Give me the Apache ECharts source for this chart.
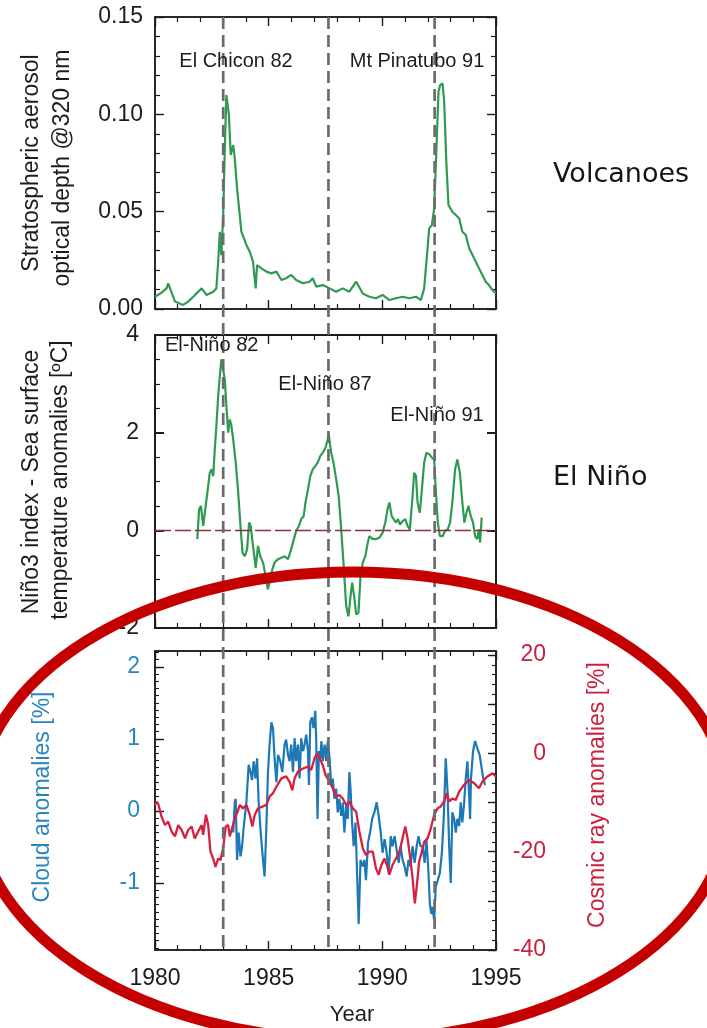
<!DOCTYPE html>
<html><head><meta charset="utf-8">
<script src="https://cdn.jsdelivr.net/npm/echarts@6/dist/echarts.min.js"></script>
<style>html,body{margin:0;padding:0;background:#fff}#c{width:707px;height:1028px}</style>
</head><body><div id="c"></div>
<script>
// ---------------- DATA ----------------
const yearTickLabels = [1980, 1985, 1990, 1995];
const aerosolTickLabels = [0, 0.05, 0.10, 0.15];
const ninoTickLabels = [-2, 0, 2, 4];
const cloudTickLabels = [-1, 0, 1, 2];
const cosmicTickLabels = [-40, -20, 0, 20];
const eventYears = [1983.0, 1987.63, 1992.3];
const volcanoLabels = ['El Chicon 82', 'Mt Pinatubo 91'];
const ninoLabels = ['El-Niño 82', 'El-Niño 87', 'El-Niño 91'];

// Stratospheric aerosol optical depth @320 nm
const aerosol = [[1980.00,0.0063],[1980.30,0.0085],[1980.51,0.0106],[1980.58,0.0132],[1980.88,0.0038],[1981.24,0.0021],[1981.46,0.0038],[1981.68,0.0063],[1982.05,0.0106],[1982.27,0.0072],[1982.56,0.0089],[1982.70,0.0106],[1982.78,0.0243],[1982.85,0.0397],[1982.92,0.0277],[1983.00,0.0483],[1983.07,0.0825],[1983.14,0.1099],[1983.25,0.0996],[1983.33,0.0791],[1983.44,0.0842],[1983.51,0.0774],[1983.61,0.0620],[1983.80,0.0397],[1984.02,0.0329],[1984.17,0.0294],[1984.31,0.0243],[1984.43,0.0106],[1984.49,0.0226],[1984.68,0.0209],[1984.90,0.0192],[1985.12,0.0183],[1985.34,0.0192],[1985.56,0.0149],[1985.77,0.0158],[1985.99,0.0175],[1986.21,0.0149],[1986.51,0.0132],[1986.80,0.0140],[1986.94,0.0158],[1987.09,0.0115],[1987.38,0.0123],[1987.68,0.0106],[1987.97,0.0089],[1988.26,0.0106],[1988.55,0.0089],[1988.85,0.0140],[1989.14,0.0080],[1989.43,0.0063],[1989.72,0.0055],[1990.01,0.0072],[1990.31,0.0046],[1990.60,0.0055],[1990.89,0.0063],[1991.18,0.0055],[1991.48,0.0063],[1991.70,0.0046],[1991.84,0.0106],[1991.99,0.0312],[1992.06,0.0414],[1992.18,0.0431],[1992.28,0.0517],[1992.38,0.0825],[1992.47,0.1116],[1992.54,0.1150],[1992.65,0.1159],[1992.72,0.1065],[1992.82,0.0740],[1992.91,0.0534],[1993.08,0.0500],[1993.23,0.0483],[1993.38,0.0466],[1993.52,0.0397],[1993.67,0.0380],[1993.82,0.0312],[1994.04,0.0260],[1994.25,0.0209],[1994.40,0.0175],[1994.55,0.0140],[1994.69,0.0123],[1994.84,0.0098],[1995.00,0.0080]];

// Nino3 index, SST anomalies [ºC]
const nino3 = [[1981.86,-0.18],[1981.94,0.43],[1982.02,0.50],[1982.12,0.09],[1982.19,0.12],[1982.34,0.91],[1982.41,1.18],[1982.49,1.25],[1982.56,1.11],[1982.63,1.66],[1982.70,2.14],[1982.78,2.75],[1982.85,3.16],[1982.92,3.50],[1983.00,3.54],[1983.07,3.09],[1983.14,2.55],[1983.22,2.00],[1983.29,2.27],[1983.36,2.14],[1983.44,1.86],[1983.55,1.39],[1983.65,0.84],[1983.76,0.09],[1983.85,-0.46],[1983.95,-0.53],[1984.05,-0.39],[1984.14,0.16],[1984.21,0.09],[1984.31,-0.32],[1984.43,-0.77],[1984.53,-0.32],[1984.63,-0.53],[1984.75,-0.66],[1984.87,-0.94],[1984.96,-1.21],[1985.04,-1.07],[1985.16,-0.80],[1985.26,-0.66],[1985.41,-0.59],[1985.56,-0.56],[1985.70,-0.53],[1985.85,-0.59],[1985.99,-0.39],[1986.11,-0.18],[1986.21,-0.01],[1986.33,0.09],[1986.43,0.23],[1986.54,0.29],[1986.62,0.57],[1986.73,0.84],[1986.83,1.11],[1986.94,1.25],[1987.06,1.32],[1987.16,1.39],[1987.27,1.52],[1987.38,1.59],[1987.50,1.69],[1987.60,1.86],[1987.63,2.00],[1987.68,1.97],[1987.75,1.59],[1987.85,1.39],[1987.97,1.05],[1988.08,0.70],[1988.19,0.02],[1988.29,-0.66],[1988.41,-1.55],[1988.51,-1.76],[1988.60,-1.35],[1988.67,-1.07],[1988.76,-1.35],[1988.85,-1.72],[1988.95,-1.69],[1989.04,-0.94],[1989.14,-0.66],[1989.25,-0.53],[1989.36,-0.25],[1989.43,-0.12],[1989.58,-0.18],[1989.72,-0.18],[1989.87,-0.15],[1990.01,-0.05],[1990.13,0.16],[1990.23,0.43],[1990.31,0.57],[1990.41,0.29],[1990.50,0.23],[1990.60,0.16],[1990.69,0.23],[1990.77,0.12],[1990.89,0.19],[1991.01,0.23],[1991.11,0.09],[1991.21,0.02],[1991.33,0.70],[1991.40,1.18],[1991.48,1.11],[1991.55,0.57],[1991.65,0.36],[1991.74,0.84],[1991.84,1.39],[1991.94,1.59],[1992.06,1.56],[1992.18,1.49],[1992.28,1.45],[1992.35,0.84],[1992.44,0.16],[1992.53,-0.12],[1992.65,-0.12],[1992.76,-0.01],[1992.88,0.02],[1992.98,0.16],[1993.08,0.57],[1993.20,1.25],[1993.30,1.45],[1993.41,1.18],[1993.52,0.57],[1993.61,0.16],[1993.70,0.36],[1993.79,0.50],[1993.89,0.29],[1993.99,0.16],[1994.08,-0.12],[1994.17,-0.18],[1994.25,0.02],[1994.30,-0.25],[1994.37,0.26]];

// Cosmic ray anomalies [%]
const cosmicRay = [[1980.00,-10.5],[1980.07,-9.8],[1980.15,-10.4],[1980.29,-12.9],[1980.44,-14.6],[1980.58,-13.9],[1980.73,-15.9],[1980.88,-16.9],[1981.02,-14.6],[1981.17,-15.6],[1981.32,-17.3],[1981.46,-15.6],[1981.61,-14.9],[1981.75,-17.3],[1981.90,-15.9],[1982.05,-14.6],[1982.12,-16.6],[1982.24,-12.5],[1982.34,-14.6],[1982.44,-20.0],[1982.56,-21.4],[1982.66,-23.1],[1982.78,-21.4],[1982.88,-21.7],[1983.00,-19.3],[1983.11,-14.9],[1983.22,-14.6],[1983.29,-16.9],[1983.41,-14.9],[1983.51,-13.2],[1983.63,-11.9],[1983.73,-10.5],[1983.87,-11.2],[1984.02,-10.5],[1984.17,-12.5],[1984.28,-14.9],[1984.39,-12.5],[1984.53,-11.2],[1984.75,-10.8],[1984.90,-10.5],[1985.04,-8.8],[1985.19,-8.1],[1985.34,-6.8],[1985.56,-5.1],[1985.77,-4.7],[1985.92,-5.8],[1986.04,-7.5],[1986.14,-5.1],[1986.29,-3.7],[1986.51,-3.1],[1986.73,-2.7],[1986.87,-3.4],[1987.02,-1.0],[1987.13,0.0],[1987.24,-1.0],[1987.38,-2.4],[1987.50,-4.4],[1987.68,-5.8],[1987.82,-7.1],[1987.97,-8.8],[1988.11,-8.5],[1988.26,-9.2],[1988.41,-10.5],[1988.55,-9.8],[1988.70,-11.2],[1988.85,-11.9],[1988.99,-15.9],[1989.14,-19.3],[1989.28,-20.7],[1989.43,-20.0],[1989.58,-20.0],[1989.72,-23.4],[1989.84,-24.7],[1989.96,-22.7],[1990.09,-21.4],[1990.20,-22.7],[1990.31,-24.7],[1990.45,-22.7],[1990.60,-21.4],[1990.75,-20.0],[1990.89,-17.3],[1991.01,-14.9],[1991.11,-17.3],[1991.21,-20.7],[1991.33,-25.4],[1991.43,-30.5],[1991.52,-26.8],[1991.62,-22.0],[1991.74,-20.0],[1991.84,-18.0],[1991.99,-17.3],[1992.13,-15.3],[1992.28,-12.5],[1992.43,-11.2],[1992.57,-10.8],[1992.72,-9.8],[1992.84,-8.1],[1992.94,-9.8],[1993.08,-9.2],[1993.23,-9.5],[1993.38,-7.8],[1993.60,-6.4],[1993.82,-5.4],[1994.04,-6.1],[1994.25,-7.1],[1994.40,-5.8],[1994.62,-4.7],[1994.84,-4.1],[1995.00,-4.7]];

// Cloud anomalies [%]
const cloud = [[1983.44,-0.30],[1983.51,0.12],[1983.55,0.17],[1983.61,-0.68],[1983.68,-0.30],[1983.76,-0.63],[1983.83,-0.49],[1983.90,-0.23],[1984.02,0.12],[1984.12,0.64],[1984.20,0.54],[1984.27,0.43],[1984.34,0.69],[1984.42,0.45],[1984.49,0.73],[1984.56,0.12],[1984.65,-0.30],[1984.75,-0.68],[1984.82,-0.91],[1984.90,-0.21],[1984.97,0.54],[1985.04,0.92],[1985.12,1.23],[1985.19,1.15],[1985.26,0.73],[1985.34,0.40],[1985.41,0.78],[1985.51,0.69],[1985.60,0.54],[1985.70,0.92],[1985.77,0.99],[1985.85,0.78],[1985.92,0.69],[1985.99,0.92],[1986.07,0.54],[1986.14,1.01],[1986.21,0.69],[1986.29,0.92],[1986.36,0.45],[1986.43,1.01],[1986.51,0.83],[1986.58,0.92],[1986.65,1.06],[1986.73,0.83],[1986.77,0.36],[1986.83,1.23],[1986.90,1.30],[1986.97,1.15],[1987.05,1.39],[1987.09,1.01],[1987.15,-0.11],[1987.21,0.83],[1987.27,0.73],[1987.32,0.97],[1987.38,0.69],[1987.46,0.92],[1987.53,0.69],[1987.60,0.97],[1987.68,0.73],[1987.75,0.36],[1987.82,0.45],[1987.89,0.17],[1987.97,0.31],[1988.04,-0.02],[1988.11,0.17],[1988.19,-0.07],[1988.26,0.12],[1988.33,-0.30],[1988.41,0.08],[1988.48,-0.11],[1988.55,0.54],[1988.60,0.31],[1988.67,-0.16],[1988.74,-0.49],[1988.82,-0.16],[1988.87,-0.68],[1988.96,-1.57],[1989.04,-0.68],[1989.14,-0.77],[1989.21,-0.68],[1989.28,-0.96],[1989.37,-0.44],[1989.46,-0.30],[1989.55,-0.11],[1989.65,-0.02],[1989.75,0.12],[1989.84,-0.07],[1989.93,-0.30],[1990.01,-0.58],[1990.10,-0.39],[1990.19,-0.58],[1990.28,-0.86],[1990.37,-0.35],[1990.45,-0.49],[1990.54,-0.35],[1990.63,-0.54],[1990.72,-0.72],[1990.80,-0.49],[1990.89,-0.68],[1990.98,-0.77],[1991.07,-0.91],[1991.15,-0.68],[1991.24,-0.77],[1991.33,-0.49],[1991.42,-0.72],[1991.51,-0.49],[1991.59,-0.35],[1991.68,-0.49],[1991.77,-0.49],[1991.86,-0.72],[1991.94,-0.39],[1992.03,-0.86],[1992.09,-1.29],[1992.15,-1.43],[1992.21,-1.33],[1992.28,-1.52],[1992.35,-1.05],[1992.44,-0.96],[1992.53,-0.86],[1992.62,-0.58],[1992.70,-0.11],[1992.79,0.73],[1992.87,0.26],[1992.94,-0.49],[1993.01,-1.00],[1993.08,-0.02],[1993.16,-0.11],[1993.23,-0.30],[1993.30,-0.11],[1993.38,-0.21],[1993.45,0.12],[1993.52,-0.16],[1993.60,0.12],[1993.67,0.45],[1993.74,0.69],[1993.82,0.22],[1993.86,-0.11],[1993.90,0.45],[1993.99,0.83],[1994.08,0.97],[1994.18,0.87],[1994.28,0.78],[1994.37,0.59],[1994.44,0.45],[1994.52,0.36]];

// ---------------- CHART ----------------
const chart = echarts.init(document.getElementById('c'), null, {renderer: 'canvas'});
const FONT = '"Liberation Sans", Arial, Helvetica, sans-serif';
const INK = '#1c1c1c';
const BLUE = '#2a84bf';
const RED = '#c9203f';
const TICKFS = 23;
const L = 155, W = 341;

const cloudMinor = []; for (let i = -19; i <= 22; i++) cloudMinor.push(i / 10);
const cosmicMinor = []; for (let v = -40; v <= 20; v += 2) cosmicMinor.push(v);
const cosmicMajor = []; for (let v = -40; v <= 20; v += 10) cosmicMajor.push(v);

function xAx(gi, pos, showLabel) {
  return {
    type: 'value', gridIndex: gi, position: pos, min: 1980, max: 1995, interval: 5,
    axisLine: {show: true, onZero: false, lineStyle: {color: INK, width: 1.5}},
    axisTick: {show: true, inside: true, length: 9, lineStyle: {color: INK, width: 1.4}},
    minorTick: {show: true, splitNumber: 5, length: 5, lineStyle: {color: INK, width: 1.2}},
    splitLine: {show: false}, minorSplitLine: {show: false},
    axisLabel: {show: showLabel, customValues: yearTickLabels, margin: 17, fontSize: TICKFS,
      fontFamily: FONT, color: INK, formatter: v => String(v)}
  };
}
function yBase(gi, pos, min, max, extra) {
  return Object.assign({
    type: 'value', gridIndex: gi, position: pos, min: min, max: max,
    axisLine: {show: true, onZero: false, lineStyle: {color: INK, width: 1.5}},
    splitLine: {show: false}, minorSplitLine: {show: false}
  }, extra);
}

const option = {
  animation: false,
  backgroundColor: '#ffffff',
  grid: [
    {left: L, top: 17, width: W, height: 292, show: true, borderColor: INK, borderWidth: 1.5, backgroundColor: 'transparent'},
    {left: L, top: 335, width: W, height: 293, show: true, borderColor: INK, borderWidth: 2, backgroundColor: 'transparent'},
    {left: L, top: 651, width: W, height: 299, show: true, borderColor: INK, borderWidth: 1.5, backgroundColor: 'transparent'}
  ],
  xAxis: [
    xAx(0, 'bottom', false), xAx(0, 'top', false),
    xAx(1, 'bottom', false), xAx(1, 'top', false),
    xAx(2, 'bottom', true), xAx(2, 'top', false)
  ],
  yAxis: [
    yBase(0, 'left', 0, 0.15, {interval: 0.05,
      axisTick: {inside: true, length: 9, lineStyle: {color: INK, width: 1.4}},
      minorTick: {show: true, splitNumber: 5, length: 5, lineStyle: {color: INK, width: 1.2}},
      axisLabel: {customValues: aerosolTickLabels, margin: 12, fontSize: TICKFS, fontFamily: FONT, color: INK, formatter: v => v.toFixed(2)}}),
    yBase(0, 'right', 0, 0.15, {interval: 0.05,
      axisTick: {inside: true, length: 9, lineStyle: {color: INK, width: 1.4}},
      minorTick: {show: true, splitNumber: 5, length: 5, lineStyle: {color: INK, width: 1.2}},
      axisLabel: {show: false}}),
    yBase(1, 'left', -2, 4, {interval: 2,
      axisLine: {show: true, onZero: false, lineStyle: {color: INK, width: 2}},
      axisTick: {inside: true, length: 9, lineStyle: {color: INK, width: 2}},
      minorTick: {show: true, splitNumber: 4, length: 5, lineStyle: {color: INK, width: 1.2}},
      axisLabel: {customValues: ninoTickLabels, margin: 16, fontSize: TICKFS, fontFamily: FONT, color: INK, formatter: v => String(v)}}),
    yBase(1, 'right', -2, 4, {interval: 2,
      axisTick: {inside: true, length: 9, lineStyle: {color: INK, width: 2}},
      axisLabel: {show: false}}),
    yBase(2, 'left', -1.93, 2.22, {
      axisTick: {inside: true, length: 9, customValues: cloudTickLabels, lineStyle: {color: INK, width: 1.4}},
      axisLabel: {customValues: cloudTickLabels, margin: 15, fontSize: TICKFS, fontFamily: FONT, color: BLUE, formatter: v => String(v)}}),
    yBase(2, 'right', -40, 20.8, {
      axisTick: {inside: true, length: 8, customValues: cosmicMajor, lineStyle: {color: INK, width: 1.4}},
      axisLabel: {customValues: cosmicTickLabels, align: 'right', margin: 50, fontSize: TICKFS, fontFamily: FONT, color: RED, formatter: v => String(v)}}),
    yBase(2, 'left', -1.93, 2.22, {
      axisLine: {show: false},
      axisTick: {inside: true, length: 4, customValues: cloudMinor, lineStyle: {color: INK, width: 1.1}},
      axisLabel: {show: false}}),
    yBase(2, 'right', -40, 20.8, {
      axisLine: {show: false},
      axisTick: {inside: true, length: 4, customValues: cosmicMinor, lineStyle: {color: INK, width: 1.1}},
      axisLabel: {show: false}})
  ],
  series: [
    {type: 'line', name: 'Stratospheric aerosol', xAxisIndex: 0, yAxisIndex: 0, data: aerosol,
      showSymbol: false, symbol: 'none', lineStyle: {color: '#2f9a52', width: 2.2}, z: 3},
    {type: 'line', name: 'Niño3', xAxisIndex: 2, yAxisIndex: 2, data: nino3,
      showSymbol: false, symbol: 'none', lineStyle: {color: '#2f9a52', width: 2.2}, z: 3,
      markLine: {silent: true, symbol: ['none', 'none'], label: {show: false},
        lineStyle: {color: '#8c2f3f', type: [16, 4], width: 1.3}, data: [{yAxis: 0}]}},
    {type: 'line', name: 'Cloud', xAxisIndex: 4, yAxisIndex: 4, data: cloud,
      showSymbol: false, symbol: 'none', lineStyle: {color: '#1f78b6', width: 2.2}, z: 3},
    {type: 'line', name: 'Cosmic ray', xAxisIndex: 4, yAxisIndex: 5, data: cosmicRay,
      showSymbol: false, symbol: 'none', lineStyle: {color: '#d5213f', width: 2.3}, z: 4}
  ]
};
chart.setOption(option);

// --------- overlays positioned via the library's scales ---------
const yTop = chart.convertToPixel({yAxisIndex: 0}, 0.15);
const yBot = chart.convertToPixel({yAxisIndex: 5}, -40);
const g = [];
eventYears.forEach(yr => {
  const x = chart.convertToPixel({xAxisIndex: 4}, yr);
  g.push({type: 'line', z: 50, shape: {x1: x, y1: yTop, x2: x, y2: yBot},
    style: {stroke: '#6c6c6c', lineWidth: 2.7, lineDash: [12, 6]}});
});
function txt(t, x, y, opts) {
  return {type: 'text', z: 60, x: x, y: y,
    style: Object.assign({text: t, font: '20px ' + FONT, fill: INK, textAlign: 'center', textVerticalAlign: 'middle'}, opts || {})};
}
function vtxt(t, x, y, size, color) {
  return {type: 'text', z: 60, x: x, y: y, rotation: Math.PI / 2,
    style: {text: t, font: size + 'px ' + FONT, fill: color, textAlign: 'center', textVerticalAlign: 'middle'}};
}
g.push(txt(volcanoLabels[0], 236, 61));
g.push(txt(volcanoLabels[1], 417, 61));
g.push(txt(ninoLabels[0], 165, 345, {textAlign: 'left'}));
g.push(txt(ninoLabels[1], 325, 384));
g.push(txt(ninoLabels[2], 437, 415));
g.push(vtxt('Stratospheric aerosol', 32, 163, 23, INK));
g.push(vtxt('optical depth @320 nm', 63, 168, 23, INK));
g.push(vtxt('Niño3 index - Sea surface', 32, 482, 23, INK));
g.push(vtxt('temperature anomalies [ºC]', 61, 480, 23, INK));
g.push(vtxt('Cloud anomalies [%]', 43, 797, 23, BLUE));
g.push(vtxt('Cosmic ray anomalies [%]', 598, 795, 23, RED));
g.push(txt('Year', 352, 1015, {font: '22px ' + FONT}));
g.push(txt('Volcanoes', 553, 175, {textAlign: 'left', font: '27px "DejaVu Sans", sans-serif', fill: '#151515'}));
g.push(txt('El Niño', 553, 478, {textAlign: 'left', font: '27px "DejaVu Sans", sans-serif', fill: '#151515'}));
g.push({type: 'ellipse', z: 100, shape: {cx: 353, cy: 806, rx: 376, ry: 234},
  style: {fill: 'none', stroke: '#c50000', lineWidth: 11}});
chart.setOption({graphic: g});
</script>
</body></html>
